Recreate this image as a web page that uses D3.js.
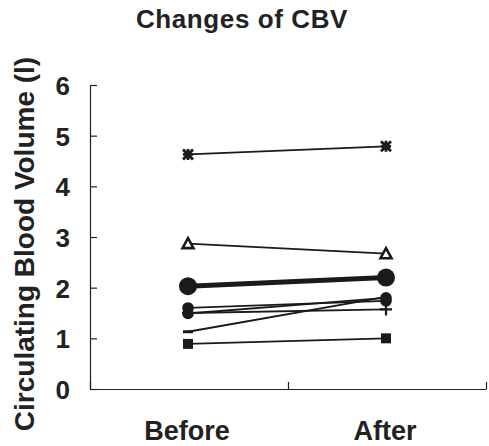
<!DOCTYPE html>
<html>
<head>
<meta charset="utf-8">
<script src="https://cdn.jsdelivr.net/npm/d3@7"></script>
<style>
  html, body { margin: 0; padding: 0; background: #fff; }
  svg { display: block; }
  text { font-family: "Liberation Sans", Arial, sans-serif; fill: #222; }
</style>
</head>
<body>
<div id="chart"></div>
<script>
// categories and values
const categories = ["Before", "After"];
const series = ["s1", "s2", "s3", "s4", "s5", "s6", "s7", "s8"];
const before = [4.63, 2.87, 2.03, 1.60, 1.49, 1.50, 1.13, 0.89];
const after  = [4.79, 2.67, 2.20, 1.74, 1.80, 1.57, 1.82, 1.00];
const yTicks = [0, 1, 2, 3, 4, 5, 6];

// marker style per series
const markerOf = {
    s1: "star", s2: "triangle", s3: "bigcircle", s4: "circle",
    s5: "circle", s6: "plus", s7: "dash", s8: "square"
};

const width = 489, height = 446;
const plotLeft = 90, plotRight = 486, plotTop = 85, plotBottom = 389;

const svg = d3.select("#chart").append("svg")
    .attr("width", width)
    .attr("height", height);

const x = d3.scaleBand().domain(categories).range([plotLeft, plotRight]);
const y = d3.scaleLinear().domain([0, 6]).range([plotBottom, plotTop]);
const xEdge = d3.scaleLinear().domain([0, categories.length]).range([plotLeft, plotRight]);

// title
svg.append("text")
    .attr("x", 242).attr("y", 28)
    .attr("text-anchor", "middle")
    .style("font-size", "26px").style("font-weight", "bold")
    .style("letter-spacing", "0.6px")
    .text("Changes of CBV");

// y axis, ticks pointing inward
const yAxis = svg.append("g")
    .attr("transform", `translate(${plotLeft},0)`)
    .call(d3.axisLeft(y).tickValues(yTicks).tickSize(-7).tickPadding(20).tickFormat(d3.format("d")));
yAxis.selectAll("path, line").attr("stroke", "#222").attr("stroke-width", 1.2);
yAxis.selectAll("text")
    .style("font-size", "26px").style("font-weight", "bold")
    .attr("fill", "#222").attr("dy", "0.36em");

// x axis, ticks between categories
const xAxis = svg.append("g")
    .attr("transform", `translate(0,${plotBottom})`)
    .call(d3.axisBottom(xEdge).tickValues(d3.range(categories.length + 1)).tickSize(-7).tickSizeOuter(0).tickFormat(""));
xAxis.selectAll("path, line").attr("stroke", "#222").attr("stroke-width", 1.2);

svg.selectAll(".cat")
    .data(categories)
    .enter().append("text")
    .attr("class", "cat")
    .attr("x", d => x(d) + x.bandwidth() / 2 - 2)
    .attr("y", 440)
    .attr("text-anchor", "middle")
    .style("font-size", "27px").style("font-weight", "bold")
    .text(d => d);

// y label
svg.append("text")
    .attr("transform", "translate(34,244) rotate(-90)")
    .attr("text-anchor", "middle")
    .style("font-size", "28px").style("font-weight", "bold")
    .text("Circulating Blood Volume (l)");

// lines
const rows = series.map((s, i) => ({ name: s, values: [before[i], after[i]] }));
const cx = c => x(c) + x.bandwidth() / 2 - 1;

const line = d3.line()
    .x((d, i) => cx(categories[i]))
    .y(d => y(d));

svg.selectAll(".series")
    .data(rows)
    .enter().append("path")
    .attr("class", "series")
    .attr("d", d => line(d.values))
    .attr("fill", "none")
    .attr("stroke", "#1a1a1a")
    .attr("stroke-width", d => markerOf[d.name] === "bigcircle" ? 5 : 1.8);

function drawMarker(g, type) {
    if (type === "bigcircle") {
        g.append("circle").attr("r", 9).attr("fill", "#1a1a1a");
    } else if (type === "circle") {
        g.append("circle").attr("r", 5.8).attr("fill", "#1a1a1a");
    } else if (type === "square") {
        g.append("rect").attr("x", -5).attr("y", -5).attr("width", 10).attr("height", 10).attr("fill", "#1a1a1a");
    } else if (type === "triangle") {
        g.append("path").attr("d", "M0,-5.5L5.5,4.5L-5.5,4.5Z")
            .attr("fill", "#fff").attr("stroke", "#1a1a1a").attr("stroke-width", 2.6);
    } else if (type === "star") {
        g.append("path").attr("d", "M-5,-5L5,5M-5,5L5,-5M0,-5.5L0,5.5M-5,0L5,0")
            .attr("stroke", "#1a1a1a").attr("stroke-width", 2.8);
    } else if (type === "plus") {
        g.append("path").attr("d", "M-6,0L6,0M0,-6L0,6")
            .attr("stroke", "#1a1a1a").attr("stroke-width", 2.2);
    } else if (type === "dash") {
        g.append("path").attr("d", "M-5,0L5,0")
            .attr("stroke", "#1a1a1a").attr("stroke-width", 3);
    }
}

rows.forEach(r => {
    r.values.forEach((v, i) => {
        const g = svg.append("g")
            .attr("transform", `translate(${cx(categories[i])},${y(v)})`);
        drawMarker(g, markerOf[r.name]);
    });
});
</script>
</body>
</html>
